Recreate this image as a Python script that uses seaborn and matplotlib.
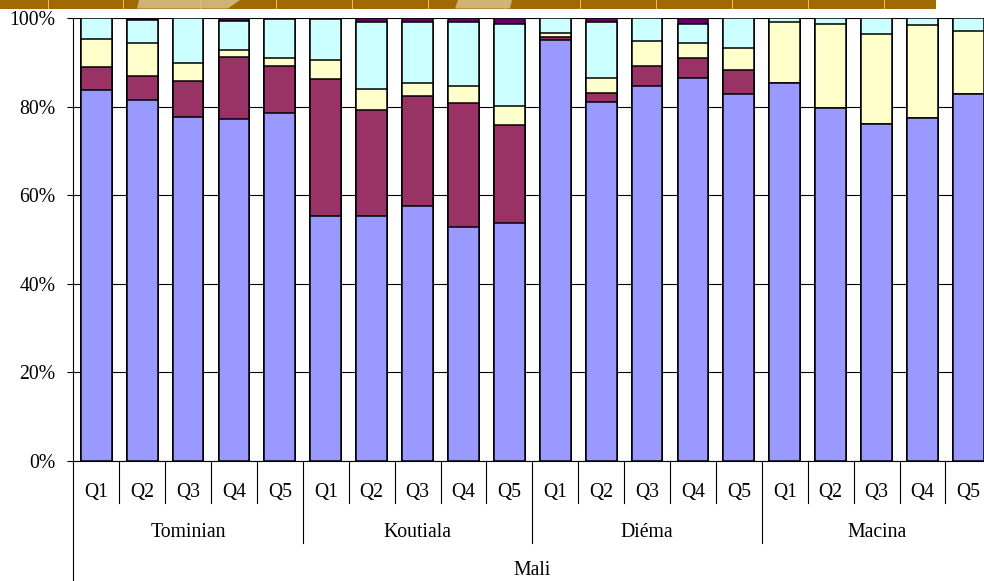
import numpy as np
import pandas as pd
import matplotlib
matplotlib.use("Agg")
import matplotlib.pyplot as plt
import matplotlib.transforms as mtransforms
from matplotlib.patches import Rectangle, Polygon
import seaborn as sns

# ---- data (percent of households, stacked bottom -> top) ----
country = "Mali"
regions = ["Tominian", "Koutiala", "Diéma", "Macina"]
quintiles = ["Q1", "Q2", "Q3", "Q4", "Q5"]

blue = [83.7, 81.5, 77.7, 77.2, 78.6,
        55.4, 55.4, 57.6, 52.9, 53.8,
        95.0, 81.0, 84.7, 86.4, 82.8,
        85.4, 79.6, 76.1, 77.4, 82.8]
maroon = [5.2, 5.4, 8.1, 14.1, 10.6,
          30.9, 23.8, 24.7, 28.0, 22.1,
          0.8, 2.0, 4.5, 4.5, 5.5,
          0.0, 0.0, 0.0, 0.0, 0.0]
yellow = [6.3, 7.4, 4.1, 1.4, 1.7,
          4.2, 4.8, 3.1, 3.7, 4.2,
          0.8, 3.5, 5.6, 3.4, 4.9,
          13.8, 19.0, 20.2, 21.0, 14.3]
cyan = [4.8, 5.2, 10.1, 6.6, 8.9,
        9.2, 15.0, 13.6, 14.4, 18.55,
        3.4, 12.7, 5.2, 4.35, 6.8,
        0.8, 1.4, 3.7, 1.6, 2.9]
purple = [0.0, 0.5, 0.0, 0.7, 0.2,
          0.3, 1.0, 1.0, 1.0, 1.35,
          0.0, 0.8, 0.0, 1.35, 0.0,
          0.0, 0.0, 0.0, 0.0, 0.0]

series = [blue, maroon, yellow, cyan, purple]
colors = ["#9999FF", "#993366", "#FFFFCC", "#CCFFFF", "#660066"]
y_ticks = [0, 20, 40, 60, 80, 100]

plt.rcParams["font.family"] = ["Liberation Serif", "DejaVu Serif"]
FS = 14.2

bar_ids = [f"{r} {q}" for r in regions for q in quintiles]
cum = np.cumsum(np.array(series, dtype=float), axis=0)

fig = plt.figure(figsize=(9.84, 5.81), dpi=100)
W, H = 984.0, 581.0
ax_left, ax_right, ax_top, ax_bot = 73.3, 991.3, 18.0, 461.0
ax = fig.add_axes([ax_left / W, (H - ax_bot) / H,
                   (ax_right - ax_left) / W, (ax_bot - ax_top) / H])

# stacked columns: draw cumulative totals from the top layer down
for i in reversed(range(len(series))):
    df = pd.DataFrame({"bar": bar_ids, "value": cum[i]})
    sns.barplot(data=df, x="bar", y="value", order=bar_ids, color=colors[i],
                saturation=1, width=0.67, edgecolor="black", linewidth=1.1,
                errorbar=None, ax=ax, zorder=3)

ax.set_xlim(-0.5, len(bar_ids) - 0.5)
ax.set_ylim(0, 100)
ax.set_yticks(y_ticks)
ax.set_yticklabels([f"{t}%" for t in y_ticks], fontsize=FS)
ax.tick_params(axis="y", direction="out", length=4.5, width=0.8, pad=8.5,
               color="black")
ax.tick_params(axis="x", bottom=False, labelbottom=False)
ax.set_xlabel("")
ax.set_ylabel("")
ax.grid(axis="y", color="black", linewidth=0.8)
ax.set_axisbelow(True)
for s in ["top", "right"]:
    ax.spines[s].set_visible(False)
ax.spines["left"].set_linewidth(0.8)
ax.spines["bottom"].set_linewidth(0.8)

# hierarchical category axis
trans = mtransforms.blended_transform_factory(ax.transData, ax.transAxes)
h = ax_bot - ax_top
def yf(px):
    return (ax_bot - px) / h

n = len(bar_ids)
for k in range(n + 1):
    x = k - 0.5
    if k == 0:
        y_end = yf(581)
    elif k % len(quintiles) == 0:
        y_end = yf(543)
    else:
        y_end = yf(503)
    ax.plot([x, x], [0, y_end], color="black", linewidth=0.8,
            transform=trans, clip_on=False)

for k in range(n):
    ax.text(k, yf(492.5), quintiles[k % len(quintiles)], transform=trans,
            ha="center", va="center", fontsize=FS)
for j, r in enumerate(regions):
    cx = j * len(quintiles) + (len(quintiles) - 1) / 2
    ax.text(cx, yf(532.5), r, transform=trans, ha="center", va="center",
            fontsize=FS)
ax.text((n - 1) / 2, yf(570.5), country, transform=trans, ha="center",
        va="center", fontsize=FS)

# decorative header strip
def fx(px):
    return px / W
def fy(py):
    return 1 - py / H

band_h = 8.5
fig.add_artist(Rectangle((0, fy(band_h)), fx(936), band_h / H,
                         transform=fig.transFigure, facecolor="#A06A00",
                         edgecolor="none"))
tan = "#CFB374"
fig.add_artist(Polygon([(fx(137), fy(band_h)), (fx(139), fy(0)),
                        (fx(240), fy(0)), (fx(228), fy(band_h))],
                       closed=True, transform=fig.transFigure,
                       facecolor=tan, edgecolor="none"))
fig.add_artist(Polygon([(fx(455), fy(band_h)), (fx(458), fy(0)),
                        (fx(512), fy(0)), (fx(510), fy(band_h))],
                       closed=True, transform=fig.transFigure,
                       facecolor=tan, edgecolor="none"))
for px in [48, 123, 200, 276, 352, 428, 505, 580, 656, 732, 808, 884]:
    fig.add_artist(Rectangle((fx(px), fy(band_h)), 1 / W, band_h / H,
                             transform=fig.transFigure, facecolor="#D9BE80",
                             edgecolor="none"))

fig.savefig("out.png", dpi=100)
